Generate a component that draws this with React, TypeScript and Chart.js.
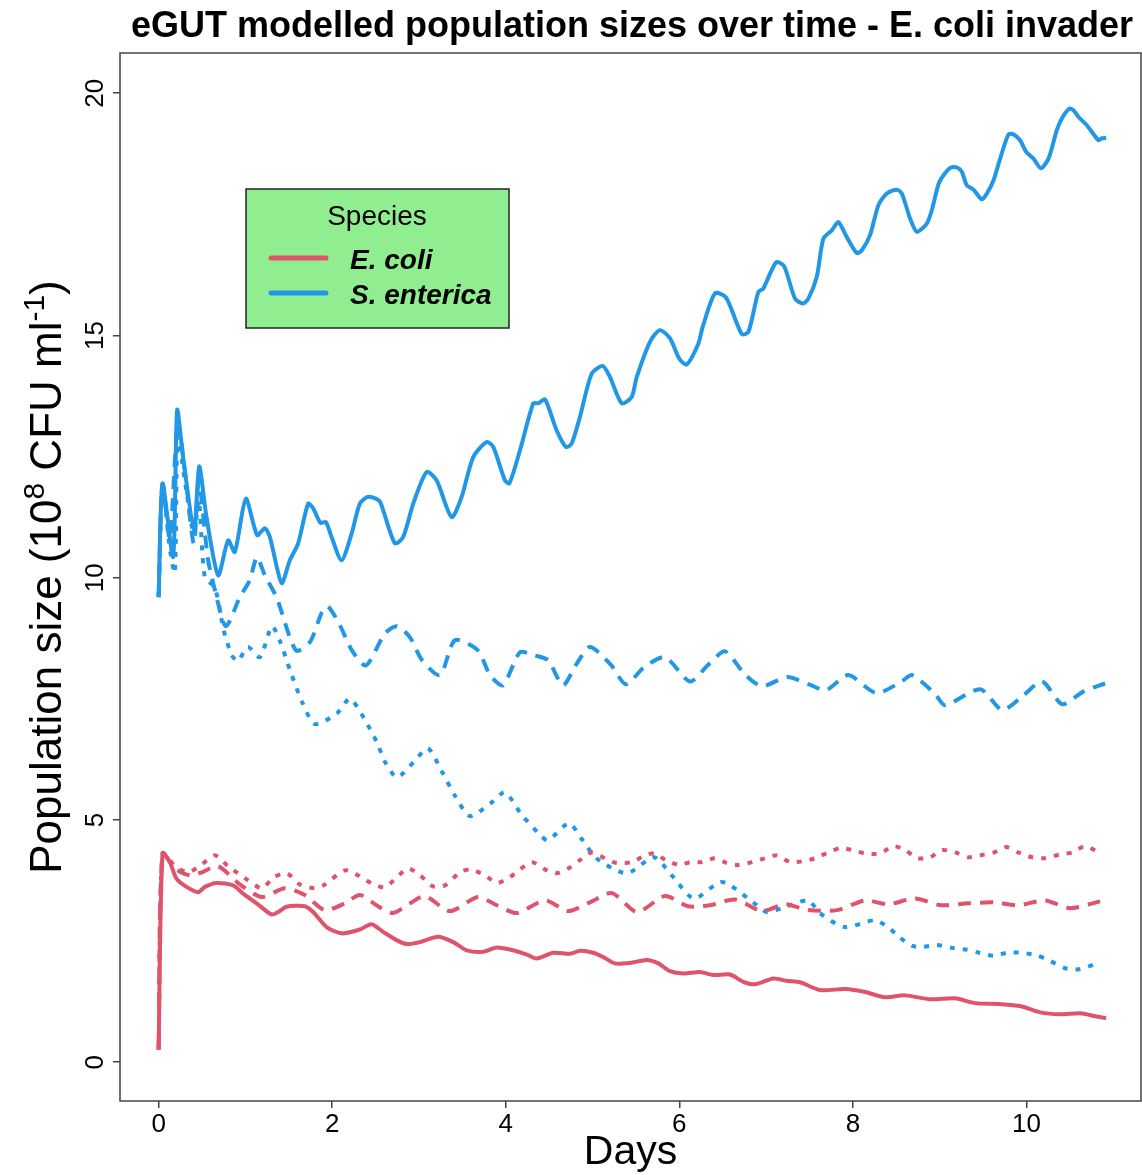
import React, { useEffect, useRef } from "react";
import { Chart, registerables } from "chart.js";

Chart.register(...registerables);

// ---- data: [day, population size (10^8 CFU/ml)] ----
const eColiSolid: [number, number][] = [
  [0, 0.26], [0.045, 4.31], [0.129, 4.13], [0.206, 3.79], [0.322, 3.62], [0.455, 3.51], [0.533, 3.62],
  [0.667, 3.7], [0.859, 3.65], [0.974, 3.48], [1.129, 3.28], [1.301, 3.05], [1.378, 3.1], [1.474, 3.21],
  [1.685, 3.22], [1.781, 3.1], [1.935, 2.79], [2.108, 2.66], [2.319, 2.74], [2.454, 2.85], [2.588, 2.69],
  [2.742, 2.52], [2.858, 2.44], [3.011, 2.48], [3.222, 2.59], [3.395, 2.48], [3.549, 2.31], [3.741, 2.28],
  [3.895, 2.37], [4.086, 2.31], [4.259, 2.21], [4.356, 2.14], [4.548, 2.26], [4.74, 2.24], [4.855, 2.3],
  [5.009, 2.26], [5.124, 2.17], [5.259, 2.04], [5.432, 2.05], [5.624, 2.11], [5.758, 2.04], [5.893, 1.88],
  [6.046, 1.83], [6.239, 1.86], [6.392, 1.8], [6.584, 1.81], [6.738, 1.66], [6.873, 1.61], [7.084, 1.73],
  [7.238, 1.68], [7.391, 1.65], [7.622, 1.49], [7.91, 1.51], [8.141, 1.45], [8.371, 1.34], [8.602, 1.38],
  [8.89, 1.3], [9.178, 1.32], [9.409, 1.22], [9.697, 1.2], [9.928, 1.16], [10.158, 1.03], [10.389, 0.99],
  [10.619, 1.01], [10.792, 0.95], [10.919, 0.91],
];

const eColiDashed: [number, number][] = [
  [0, 0.26], [0.045, 4.31], [0.187, 4.0], [0.36, 3.86], [0.498, 3.92], [0.682, 4.05], [0.936, 3.67],
  [1.19, 3.41], [1.455, 3.59], [1.685, 3.45], [1.916, 3.14], [2.146, 3.28], [2.319, 3.45], [2.527, 3.22],
  [2.7, 3.08], [2.896, 3.28], [3.068, 3.43], [3.357, 3.12], [3.679, 3.41], [3.898, 3.24], [4.129, 3.08],
  [4.452, 3.34], [4.717, 3.12], [4.97, 3.3], [5.224, 3.49], [5.512, 3.1], [5.835, 3.43], [6.1, 3.22],
  [6.354, 3.24], [6.642, 3.36], [6.953, 3.12], [7.218, 3.26], [7.483, 3.14], [7.818, 3.14], [8.14, 3.34],
  [8.405, 3.26], [8.717, 3.38], [9.016, 3.24], [9.328, 3.28], [9.627, 3.3], [9.904, 3.24], [10.215, 3.34],
  [10.504, 3.18], [10.849, 3.32],
];

const eColiDotted: [number, number][] = [
  [0, 0.26], [0.045, 4.31], [0.187, 4.05], [0.337, 3.92], [0.475, 4.05], [0.648, 4.27], [0.798, 4.05],
  [1.028, 3.76], [1.19, 3.59], [1.328, 3.82], [1.478, 3.9], [1.628, 3.67], [1.801, 3.59], [1.916, 3.67],
  [2.146, 3.96], [2.296, 3.86], [2.458, 3.69], [2.607, 3.61], [2.734, 3.8], [2.873, 4.0], [3.011, 3.86],
  [3.161, 3.63], [3.299, 3.65], [3.472, 3.92], [3.587, 3.98], [3.76, 3.86], [3.898, 3.7], [4.048, 3.82],
  [4.163, 3.98], [4.302, 4.13], [4.452, 3.98], [4.579, 3.9], [4.74, 4.02], [4.855, 4.17], [4.993, 4.33],
  [5.143, 4.21], [5.281, 4.11], [5.454, 4.13], [5.604, 4.27], [5.719, 4.31], [5.846, 4.17], [6.007, 4.07],
  [6.123, 4.13], [6.261, 4.13], [6.411, 4.21], [6.549, 4.11], [6.676, 4.07], [6.838, 4.13], [6.988, 4.21],
  [7.126, 4.27], [7.276, 4.13], [7.426, 4.15], [7.565, 4.21], [7.714, 4.33], [7.853, 4.42], [7.991, 4.38],
  [8.141, 4.31], [8.314, 4.31], [8.464, 4.46], [8.602, 4.38], [8.741, 4.21], [8.891, 4.23], [9.029, 4.38],
  [9.179, 4.33], [9.328, 4.23], [9.467, 4.27], [9.628, 4.33], [9.766, 4.44], [9.904, 4.33], [10.066, 4.23],
  [10.216, 4.21], [10.389, 4.29], [10.527, 4.33], [10.677, 4.46], [10.849, 4.31],
];

const sEntericaSolid: [number, number][] = [
  [0, 9.6], [0.045, 11.94], [0.167, 10.43], [0.213, 13.46], [0.282, 12.49], [0.409, 10.98], [0.467, 12.3],
  [0.552, 11.25], [0.686, 10.05], [0.801, 10.77], [0.878, 10.53], [1.005, 11.63], [1.135, 10.88],
  [1.224, 11.02], [1.282, 10.84], [1.417, 9.89], [1.512, 10.36], [1.608, 10.71], [1.723, 11.53],
  [1.781, 11.43], [1.866, 11.13], [1.927, 11.15], [1.993, 10.84], [2.108, 10.36], [2.224, 10.91],
  [2.319, 11.53], [2.415, 11.67], [2.542, 11.59], [2.588, 11.39], [2.723, 10.71], [2.818, 10.84],
  [2.934, 11.53], [3.088, 12.18], [3.203, 12.01], [3.376, 11.25], [3.492, 11.67], [3.625, 12.49],
  [3.78, 12.8], [3.856, 12.7], [3.991, 12.01], [4.043, 11.95], [4.164, 12.63], [4.317, 13.6], [4.375, 13.6],
  [4.452, 13.68], [4.587, 13.04], [4.694, 12.7], [4.76, 12.77], [4.855, 13.32], [4.99, 14.21], [5.117, 14.37],
  [5.201, 14.14], [5.336, 13.6], [5.451, 13.73], [5.509, 14.14], [5.662, 14.87], [5.777, 15.11],
  [5.893, 14.94], [6.0, 14.52], [6.085, 14.4], [6.219, 14.83], [6.27, 15.18], [6.412, 15.87], [6.539, 15.78],
  [6.719, 15.03], [6.796, 15.07], [6.911, 15.9], [6.968, 15.97], [7.115, 16.51], [7.207, 16.43],
  [7.334, 15.76], [7.423, 15.66], [7.487, 15.76], [7.584, 16.21], [7.66, 17.0], [7.757, 17.17],
  [7.833, 17.34], [7.93, 17.03], [8.045, 16.7], [8.103, 16.76], [8.198, 17.07], [8.294, 17.69],
  [8.391, 17.93], [8.506, 18.01], [8.564, 17.93], [8.66, 17.41], [8.737, 17.14], [8.852, 17.31],
  [8.91, 17.59], [8.997, 18.17], [9.121, 18.46], [9.198, 18.47], [9.255, 18.38], [9.313, 18.1],
  [9.389, 18.01], [9.486, 17.81], [9.544, 17.93], [9.62, 18.2], [9.697, 18.65], [9.793, 19.15],
  [9.85, 19.15], [9.927, 19.03], [9.997, 18.79], [10.081, 18.65], [10.166, 18.45], [10.254, 18.65],
  [10.35, 19.24], [10.408, 19.48], [10.496, 19.68], [10.542, 19.65], [10.6, 19.51], [10.696, 19.34],
  [10.83, 19.03], [10.869, 19.07], [10.919, 19.08],
];

const sEntericaDashed: [number, number][] = [
  [0, 9.6], [0.045, 11.94], [0.129, 10.8], [0.221, 13.2], [0.302, 12.2], [0.406, 10.7], [0.463, 12.0],
  [0.567, 10.4], [0.648, 9.75], [0.775, 9.0], [0.936, 9.6], [1.051, 9.95], [1.132, 10.42], [1.224, 10.05],
  [1.362, 9.58], [1.582, 8.5], [1.743, 8.67], [1.882, 9.29], [1.951, 9.41], [2.089, 9.02], [2.227, 8.5],
  [2.389, 8.19], [2.608, 8.85], [2.746, 9.0], [2.896, 8.77], [3.034, 8.3], [3.242, 7.99], [3.415, 8.71],
  [3.679, 8.5], [3.818, 7.99], [3.968, 7.78], [4.163, 8.46], [4.325, 8.4], [4.486, 8.3], [4.659, 7.78],
  [4.809, 8.2], [4.97, 8.57], [5.212, 8.2], [5.385, 7.8], [5.593, 8.15], [5.835, 8.36], [6.123, 7.86],
  [6.331, 8.2], [6.527, 8.48], [6.757, 8.0], [6.953, 7.76], [7.241, 7.95], [7.495, 7.8], [7.691, 7.68],
  [7.945, 7.99], [8.268, 7.62], [8.556, 7.85], [8.683, 7.99], [8.948, 7.6], [9.063, 7.37], [9.467, 7.7],
  [9.72, 7.27], [9.951, 7.55], [10.181, 7.86], [10.412, 7.39], [10.654, 7.65], [10.907, 7.82],
];

const sEntericaDotted: [number, number][] = [
  [0, 9.6], [0.045, 11.94], [0.129, 10.6], [0.187, 10.1], [0.221, 12.9], [0.302, 12.0], [0.406, 10.9],
  [0.463, 11.6], [0.533, 10.0], [0.648, 9.8], [0.752, 8.9], [0.844, 8.4], [0.913, 8.28], [1.028, 8.57],
  [1.167, 8.36], [1.305, 9.0], [1.397, 8.7], [1.512, 8.1], [1.662, 7.4], [1.801, 6.98], [2.054, 7.2],
  [2.204, 7.5], [2.366, 7.1], [2.516, 6.6], [2.608, 6.2], [2.746, 5.88], [2.942, 6.2], [3.103, 6.48],
  [3.264, 6.0], [3.415, 5.5], [3.587, 5.08], [3.829, 5.35], [3.99, 5.57], [4.186, 5.1], [4.394, 4.7],
  [4.486, 4.58], [4.728, 4.93], [4.878, 4.6], [5.051, 4.2], [5.397, 3.9], [5.708, 4.23], [5.916, 3.85],
  [6.169, 3.38], [6.492, 3.72], [6.85, 3.3], [7.011, 3.1], [7.184, 3.18], [7.484, 3.34], [7.622, 3.07],
  [7.91, 2.79], [8.245, 2.93], [8.395, 2.8], [8.545, 2.57], [8.683, 2.4], [8.81, 2.38], [8.971, 2.42],
  [9.144, 2.36], [9.317, 2.32], [9.455, 2.26], [9.617, 2.2], [9.778, 2.26], [9.951, 2.26], [10.124, 2.2],
  [10.262, 2.1], [10.446, 1.94], [10.608, 1.92], [10.78, 2.02],
];

const xTickStep = 2;
const yTickStep = 5;
const legendLabels = ["E. coli", "S. enterica"];
const TITLE = "eGUT modelled population sizes over time - E. coli invader";

const RED = "#DF536B";
const BLUE = "#2297E6";
const FONT = '"Liberation Sans", Arial, Helvetica, sans-serif';
const DASHED = [13, 9];
const DOTTED = [5, 8];

const decorPlugin = {
  id: "decor",
  afterDraw(chart: any) {
    const { ctx, chartArea: a } = chart;
    ctx.save();
    // plot box
    ctx.strokeStyle = "#444";
    ctx.lineWidth = 1.5;
    ctx.strokeRect(a.left, a.top, a.right - a.left, a.bottom - a.top);

    // main title
    ctx.fillStyle = "#000";
    ctx.font = `bold 36px ${FONT}`;
    ctx.textAlign = "center";
    ctx.textBaseline = "alphabetic";
    ctx.fillText(TITLE, 632, 37);

    // y axis title with superscripts
    const parts: [string, boolean][] = [
      ["Population size (10", false],
      ["8", true],
      [" CFU ml", false],
      ["-1", true],
      [")", false],
    ];
    const mainFont = `44px ${FONT}`;
    const supFont = `30px ${FONT}`;
    let total = 0;
    const widths = parts.map(([t, sup]) => {
      ctx.font = sup ? supFont : mainFont;
      const w = ctx.measureText(t).width;
      total += w;
      return w;
    });
    ctx.translate(61, (a.top + a.bottom) / 2);
    ctx.rotate(-Math.PI / 2);
    ctx.textAlign = "left";
    let cx = -total / 2;
    parts.forEach(([t, sup], i) => {
      ctx.font = sup ? supFont : mainFont;
      ctx.fillText(t, cx, sup ? -17 : 0);
      cx += widths[i];
    });
    ctx.setTransform(1, 0, 0, 1, 0, 0);

    // legend
    const lx = 246, ly = 189, lw = 263, lh = 139;
    ctx.fillStyle = "#90EE90";
    ctx.fillRect(lx, ly, lw, lh);
    ctx.strokeStyle = "#222";
    ctx.lineWidth = 1.5;
    ctx.strokeRect(lx, ly, lw, lh);
    ctx.fillStyle = "#000";
    ctx.font = `28px ${FONT}`;
    ctx.textAlign = "center";
    ctx.fillText("Species", lx + 131, 225);
    const rows = [
      { label: legendLabels[0], color: RED, y: 258 },
      { label: legendLabels[1], color: BLUE, y: 293 },
    ];
    rows.forEach((r) => {
      ctx.strokeStyle = r.color;
      ctx.lineWidth = 5;
      ctx.lineCap = "round";
      ctx.beginPath();
      ctx.moveTo(271, r.y);
      ctx.lineTo(326, r.y);
      ctx.stroke();
      ctx.fillStyle = "#000";
      ctx.font = `italic bold 28px ${FONT}`;
      ctx.textAlign = "left";
      ctx.fillText(r.label, 350, r.y + 11);
    });
    ctx.restore();
  },
};

function toPoints(arr: [number, number][]) {
  return arr.map(([x, y]) => ({ x, y }));
}

export default function App() {
  const ref = useRef<HTMLCanvasElement | null>(null);

  useEffect(() => {
    if (!ref.current) return;
    Chart.defaults.font.family = FONT;
    const mk = (label: string, data: [number, number][], color: string, dash: number[]) => ({
      label,
      data: toPoints(data),
      borderColor: color,
      backgroundColor: color,
      borderWidth: 4,
      borderDash: dash,
      borderCapStyle: "butt" as const,
      borderJoinStyle: "round" as const,
      pointRadius: 0,
      tension: 0.25,
      fill: false,
    });
    const gridOpts = {
      display: true,
      drawOnChartArea: false,
      drawTicks: true,
      tickLength: 7,
      color: "#444",
      lineWidth: 1.5,
    };
    const chart = new Chart(ref.current, {
      type: "line",
      data: {
        datasets: [
          mk("E. coli", eColiSolid, RED, []),
          mk("E. coli (dashed)", eColiDashed, RED, DASHED),
          mk("E. coli (dotted)", eColiDotted, RED, DOTTED),
          mk("S. enterica", sEntericaSolid, BLUE, []),
          mk("S. enterica (dashed)", sEntericaDashed, BLUE, DASHED),
          mk("S. enterica (dotted)", sEntericaDotted, BLUE, DOTTED),
        ],
      },
      options: {
        animation: false,
        responsive: false,
        events: [],
        layout: { padding: { top: 53, right: 1, left: 0, bottom: 0 } },
        plugins: {
          legend: { display: false },
          title: { display: false },
          tooltip: { enabled: false },
        },
        scales: {
          x: {
            type: "linear",
            min: -0.445,
            max: 11.32,
            afterFit: (s: any) => {
              s.height = 74;
            },
            ticks: {
              stepSize: xTickStep,
              includeBounds: false,
              color: "#000",
              font: { size: 26 },
              padding: 1,
              maxRotation: 0,
            },
            grid: gridOpts,
            border: { display: false },
            title: {
              display: true,
              text: "Days",
              color: "#000",
              font: { size: 41, lineHeight: 1.1 },
              padding: { top: 0, bottom: 0 },
            },
          },
          y: {
            type: "linear",
            min: -0.8,
            max: 20.83,
            afterFit: (s: any) => {
              s.width = 120;
            },
            ticks: {
              stepSize: yTickStep,
              includeBounds: false,
              color: "#000",
              font: { size: 26 },
              padding: 3,
              minRotation: 90,
              maxRotation: 90,
              crossAlign: "center",
            },
            grid: gridOpts,
            border: { display: false },
          },
        },
      },
      plugins: [decorPlugin],
    } as any);
    return () => chart.destroy();
  }, []);

  return (
    <div style={{ position: "absolute", left: 0, top: 0, width: 1142, height: 1175, background: "#fff" }}>
      <canvas ref={ref} width={1142} height={1175} style={{ display: "block" }} />
    </div>
  );
}
